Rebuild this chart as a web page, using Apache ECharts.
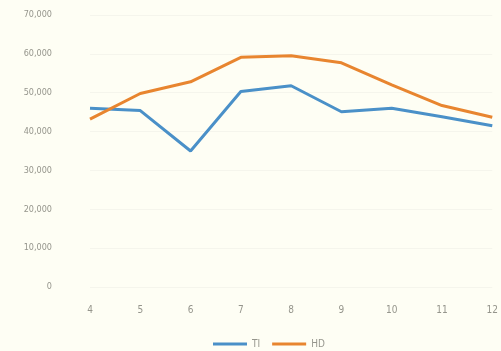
<!DOCTYPE html>
<html>
<head>
<meta charset="utf-8">
<script src="https://cdn.jsdelivr.net/npm/echarts@6/dist/echarts.min.js"></script>
<style>
  html, body { margin: 0; padding: 0; background: #fefef4; }
  #chart { width: 501px; height: 351px; }
</style>
</head>
<body>
<div id="chart"></div>
<script>
// Monthly totals, April through December
const months = ['4', '5', '6', '7', '8', '9', '10', '11', '12'];
const seriesTI = [46000, 45400, 35000, 50300, 51800, 45100, 46000, 43800, 41500];
const seriesHD = [43200, 49800, 52800, 59100, 59500, 57700, 52000, 46700, 43700];

const chart = echarts.init(document.getElementById('chart'));
const textColor = '#95958c';
chart.setOption({
  backgroundColor: '#fefef4',
  animation: false,
  grid: { left: 90, right: 8, top: 15, bottom: 64 },
  legend: {
    top: 334,
    left: 208,
    itemWidth: 34,
    itemHeight: 3,
    itemGap: 12,
    icon: 'rect',
    textStyle: { color: textColor, fontSize: 10, fontFamily: 'DejaVu Sans Condensed' },
    data: ['TI', 'HD']
  },
  xAxis: {
    type: 'category',
    data: months,
    boundaryGap: false,
    axisLine: { show: false },
    axisTick: { show: false },
    axisLabel: { color: textColor, fontSize: 10, margin: 18, fontFamily: 'DejaVu Sans Condensed' }
  },
  yAxis: {
    type: 'value',
    min: 0,
    max: 70000,
    interval: 10000,
    axisLine: { show: false },
    axisTick: { show: false },
    splitLine: { lineStyle: { color: '#f5f5ec', width: 1 } },
    axisLabel: {
      color: textColor,
      fontSize: 9,
      margin: 38,
      fontFamily: 'DejaVu Sans Condensed',
      formatter: v => v.toLocaleString('en-US')
    }
  },
  series: [
    {
      name: 'TI',
      type: 'line',
      data: seriesTI,
      symbol: 'none',
      lineStyle: { color: '#4a90c8', width: 3 },
      itemStyle: { color: '#4a90c8' }
    },
    {
      name: 'HD',
      type: 'line',
      data: seriesHD,
      symbol: 'none',
      lineStyle: { color: '#e8852f', width: 3 },
      itemStyle: { color: '#e8852f' }
    }
  ]
});
</script>
</body>
</html>
